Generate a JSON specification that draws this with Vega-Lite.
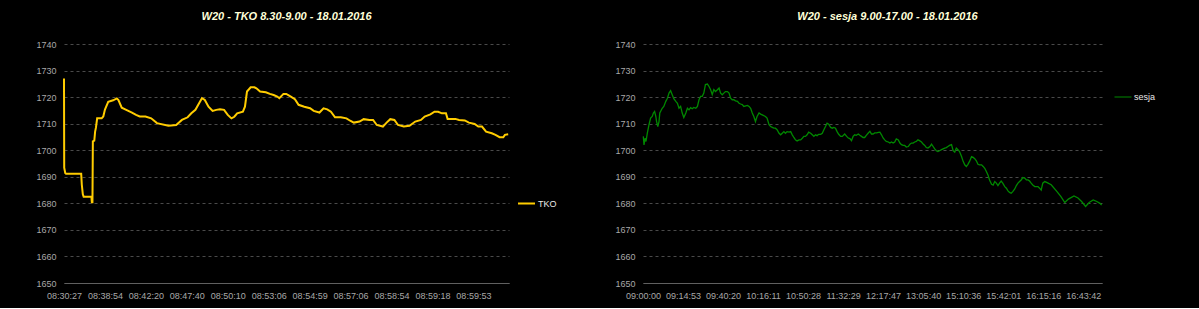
{
  "$schema": "https://vega.github.io/schema/vega-lite/v6.json",
  "background": "#000000",
  "padding": {"left": 35, "top": 11, "right": 48, "bottom": 8},
  "bounds": "flush",
  "spacing": 134,
  "datasets": {
    "tko": [
      {"i":0,"v":1727.0},{"i":0.05,"v":1693.4},{"i":0.3,"v":1691.4},{"i":0.5,"v":1691.1},{"i":4.2,"v":1691.1},{"i":4.35,"v":1687.0},{"i":4.6,"v":1683.4},{"i":4.8,"v":1682.5},{"i":6.7,"v":1682.5},{"i":6.8,"v":1680.4},{"i":6.95,"v":1680.4},{"i":7.05,"v":1703.3},{"i":7.4,"v":1703.6},{"i":7.6,"v":1707.0},{"i":7.8,"v":1708.5},{"i":8.1,"v":1712.0},{"i":9.2,"v":1712.0},{"i":9.6,"v":1712.7},{"i":10.0,"v":1715.3},{"i":10.8,"v":1718.2},{"i":12.0,"v":1718.8},{"i":12.9,"v":1719.5},{"i":13.3,"v":1718.9},{"i":14.1,"v":1716.0},{"i":15.2,"v":1715.2},{"i":16.6,"v":1714.2},{"i":17.6,"v":1713.3},{"i":18.5,"v":1712.7},{"i":19.9,"v":1712.7},{"i":21.3,"v":1712.0},{"i":22.7,"v":1710.2},{"i":25.5,"v":1709.2},{"i":27.4,"v":1709.5},{"i":28.8,"v":1711.4},{"i":30.2,"v":1712.4},{"i":31.1,"v":1713.9},{"i":32.1,"v":1715.2},{"i":33.0,"v":1717.7},{"i":33.7,"v":1719.6},{"i":34.4,"v":1718.9},{"i":35.3,"v":1716.4},{"i":36.3,"v":1714.8},{"i":37.2,"v":1715.2},{"i":38.1,"v":1715.4},{"i":39.1,"v":1715.2},{"i":40.0,"v":1713.3},{"i":40.9,"v":1712.0},{"i":41.6,"v":1712.6},{"i":42.3,"v":1713.9},{"i":43.7,"v":1714.5},{"i":44.2,"v":1716.4},{"i":44.7,"v":1722.1},{"i":45.6,"v":1723.7},{"i":46.5,"v":1723.7},{"i":47.0,"v":1723.3},{"i":47.9,"v":1722.1},{"i":49.3,"v":1721.8},{"i":50.3,"v":1721.2},{"i":51.2,"v":1720.8},{"i":52.1,"v":1720.2},{"i":52.6,"v":1719.6},{"i":53.6,"v":1721.2},{"i":54.3,"v":1721.2},{"i":55.4,"v":1720.2},{"i":56.4,"v":1719.2},{"i":57.3,"v":1717.1},{"i":58.7,"v":1716.4},{"i":60.1,"v":1715.8},{"i":61.0,"v":1714.8},{"i":62.4,"v":1714.2},{"i":63.4,"v":1715.8},{"i":64.3,"v":1715.4},{"i":65.2,"v":1714.5},{"i":66.2,"v":1712.4},{"i":67.6,"v":1712.4},{"i":69.0,"v":1712.0},{"i":69.9,"v":1711.1},{"i":70.8,"v":1710.4},{"i":72.2,"v":1710.8},{"i":73.2,"v":1711.7},{"i":74.6,"v":1711.4},{"i":75.5,"v":1711.4},{"i":76.4,"v":1709.5},{"i":77.9,"v":1708.9},{"i":78.8,"v":1710.4},{"i":79.7,"v":1711.7},{"i":80.7,"v":1711.4},{"i":81.6,"v":1709.5},{"i":83.0,"v":1708.9},{"i":84.4,"v":1709.2},{"i":85.8,"v":1710.8},{"i":87.2,"v":1711.4},{"i":88.1,"v":1712.7},{"i":89.5,"v":1713.5},{"i":90.5,"v":1714.5},{"i":91.4,"v":1714.5},{"i":92.3,"v":1713.9},{"i":93.3,"v":1713.9},{"i":93.7,"v":1711.8},{"i":95.6,"v":1711.8},{"i":96.5,"v":1711.4},{"i":97.9,"v":1711.2},{"i":98.9,"v":1710.4},{"i":100.3,"v":1709.9},{"i":101.2,"v":1708.9},{"i":102.1,"v":1708.9},{"i":103.1,"v":1707.0},{"i":104.5,"v":1706.4},{"i":105.4,"v":1705.8},{"i":106.4,"v":1704.9},{"i":107.3,"v":1704.9},{"i":107.7,"v":1705.8},{"i":108.5,"v":1706.0}
    ],
    "sesja": [
      {"i":0.08,"v":1705.2},{"i":0.25,"v":1702.0},{"i":0.5,"v":1704.5},{"i":0.75,"v":1703.3},{"i":1.08,"v":1706.4},{"i":1.5,"v":1709.6},{"i":1.9,"v":1712.1},{"i":2.3,"v":1712.7},{"i":2.6,"v":1714.0},{"i":2.9,"v":1714.6},{"i":3.2,"v":1712.7},{"i":3.4,"v":1710.8},{"i":3.7,"v":1708.9},{"i":4.0,"v":1710.8},{"i":4.2,"v":1714.0},{"i":4.8,"v":1715.8},{"i":5.2,"v":1716.5},{"i":5.7,"v":1718.4},{"i":6.1,"v":1719.6},{"i":6.5,"v":1721.5},{"i":6.9,"v":1722.4},{"i":7.3,"v":1720.9},{"i":7.7,"v":1719.4},{"i":8.2,"v":1718.4},{"i":8.6,"v":1717.7},{"i":9.0,"v":1715.8},{"i":9.4,"v":1716.5},{"i":9.8,"v":1714.0},{"i":10.2,"v":1712.3},{"i":10.7,"v":1714.0},{"i":11.1,"v":1715.8},{"i":11.5,"v":1715.2},{"i":11.9,"v":1716.0},{"i":12.3,"v":1715.6},{"i":12.7,"v":1716.1},{"i":13.2,"v":1715.8},{"i":13.6,"v":1716.5},{"i":14.0,"v":1719.0},{"i":14.4,"v":1720.3},{"i":14.8,"v":1720.3},{"i":15.2,"v":1721.5},{"i":15.6,"v":1724.7},{"i":16.1,"v":1724.9},{"i":16.5,"v":1724.0},{"i":16.9,"v":1722.8},{"i":17.3,"v":1720.9},{"i":17.7,"v":1722.8},{"i":18.1,"v":1722.1},{"i":18.6,"v":1722.8},{"i":19.0,"v":1723.4},{"i":19.4,"v":1721.5},{"i":19.8,"v":1720.9},{"i":20.2,"v":1721.5},{"i":20.6,"v":1722.1},{"i":21.1,"v":1722.1},{"i":21.5,"v":1721.5},{"i":21.9,"v":1719.6},{"i":22.3,"v":1719.0},{"i":22.7,"v":1719.0},{"i":23.1,"v":1718.6},{"i":23.6,"v":1718.4},{"i":24.0,"v":1717.7},{"i":24.4,"v":1717.4},{"i":24.8,"v":1717.2},{"i":25.2,"v":1716.5},{"i":26.1,"v":1716.9},{"i":26.5,"v":1716.5},{"i":26.9,"v":1715.8},{"i":27.3,"v":1714.0},{"i":27.7,"v":1712.7},{"i":28.1,"v":1710.8},{"i":28.5,"v":1712.7},{"i":29.0,"v":1714.0},{"i":29.4,"v":1713.6},{"i":29.8,"v":1713.3},{"i":30.6,"v":1712.7},{"i":31.0,"v":1712.1},{"i":31.5,"v":1709.6},{"i":31.9,"v":1708.9},{"i":32.3,"v":1708.6},{"i":32.7,"v":1708.3},{"i":33.1,"v":1708.3},{"i":33.5,"v":1707.7},{"i":34.0,"v":1706.4},{"i":34.4,"v":1705.8},{"i":34.8,"v":1706.4},{"i":35.2,"v":1707.0},{"i":35.6,"v":1706.4},{"i":36.0,"v":1707.0},{"i":36.5,"v":1706.8},{"i":36.9,"v":1707.0},{"i":37.3,"v":1705.8},{"i":37.7,"v":1704.8},{"i":38.1,"v":1703.9},{"i":38.5,"v":1703.5},{"i":39.0,"v":1703.9},{"i":39.4,"v":1703.9},{"i":39.8,"v":1704.5},{"i":40.2,"v":1705.2},{"i":40.6,"v":1705.2},{"i":41.0,"v":1705.8},{"i":41.4,"v":1706.8},{"i":41.9,"v":1706.4},{"i":42.3,"v":1705.8},{"i":42.7,"v":1705.2},{"i":43.1,"v":1705.8},{"i":43.5,"v":1705.5},{"i":43.9,"v":1706.0},{"i":44.4,"v":1706.0},{"i":44.8,"v":1706.4},{"i":45.2,"v":1707.7},{"i":45.6,"v":1708.9},{"i":46.0,"v":1710.2},{"i":46.4,"v":1709.8},{"i":46.9,"v":1708.6},{"i":47.3,"v":1708.3},{"i":47.7,"v":1708.6},{"i":48.1,"v":1708.3},{"i":48.5,"v":1707.0},{"i":48.9,"v":1706.0},{"i":49.4,"v":1705.2},{"i":49.8,"v":1705.2},{"i":50.4,"v":1706.1},{"i":50.9,"v":1705.2},{"i":51.3,"v":1704.6},{"i":51.7,"v":1704.4},{"i":52.1,"v":1703.6},{"i":52.5,"v":1705.2},{"i":52.9,"v":1705.8},{"i":53.3,"v":1705.6},{"i":53.8,"v":1706.1},{"i":54.2,"v":1705.6},{"i":54.6,"v":1705.2},{"i":55.0,"v":1704.8},{"i":55.4,"v":1704.8},{"i":55.8,"v":1705.6},{"i":56.3,"v":1706.5},{"i":56.7,"v":1707.1},{"i":57.1,"v":1706.1},{"i":57.5,"v":1706.1},{"i":57.9,"v":1706.5},{"i":58.4,"v":1706.5},{"i":58.8,"v":1706.7},{"i":59.2,"v":1706.8},{"i":59.6,"v":1705.8},{"i":60.0,"v":1704.6},{"i":60.4,"v":1703.9},{"i":60.8,"v":1703.3},{"i":61.3,"v":1703.1},{"i":61.7,"v":1702.7},{"i":62.1,"v":1703.1},{"i":62.5,"v":1702.7},{"i":62.9,"v":1703.1},{"i":63.3,"v":1704.3},{"i":63.8,"v":1703.9},{"i":64.2,"v":1702.7},{"i":64.6,"v":1702.1},{"i":65.0,"v":1701.8},{"i":65.4,"v":1701.8},{"i":65.8,"v":1701.2},{"i":66.3,"v":1701.4},{"i":66.7,"v":1702.3},{"i":67.1,"v":1702.7},{"i":67.5,"v":1702.7},{"i":67.9,"v":1703.1},{"i":68.3,"v":1703.3},{"i":68.7,"v":1703.9},{"i":69.1,"v":1703.6},{"i":69.6,"v":1703.1},{"i":70.0,"v":1702.3},{"i":70.4,"v":1701.8},{"i":70.8,"v":1701.0},{"i":71.2,"v":1700.8},{"i":71.7,"v":1701.4},{"i":72.1,"v":1702.3},{"i":72.5,"v":1701.4},{"i":72.9,"v":1700.5},{"i":73.3,"v":1699.8},{"i":73.7,"v":1699.5},{"i":74.1,"v":1699.8},{"i":74.6,"v":1700.2},{"i":75.0,"v":1700.5},{"i":75.4,"v":1700.8},{"i":75.8,"v":1701.0},{"i":76.2,"v":1701.4},{"i":76.6,"v":1701.8},{"i":77.1,"v":1702.1},{"i":77.5,"v":1699.8},{"i":77.9,"v":1699.3},{"i":78.3,"v":1700.8},{"i":78.7,"v":1700.2},{"i":79.1,"v":1699.5},{"i":79.6,"v":1697.6},{"i":80.0,"v":1695.8},{"i":80.4,"v":1694.5},{"i":80.8,"v":1693.9},{"i":81.2,"v":1694.7},{"i":81.6,"v":1695.8},{"i":82.1,"v":1697.6},{"i":82.5,"v":1697.3},{"i":82.9,"v":1696.8},{"i":83.3,"v":1696.0},{"i":83.7,"v":1694.7},{"i":84.1,"v":1694.5},{"i":84.6,"v":1694.5},{"i":85.0,"v":1693.9},{"i":85.4,"v":1693.2},{"i":85.8,"v":1692.0},{"i":86.2,"v":1690.7},{"i":86.6,"v":1688.8},{"i":87.1,"v":1687.2},{"i":87.5,"v":1686.9},{"i":87.9,"v":1688.2},{"i":88.3,"v":1687.6},{"i":88.7,"v":1686.7},{"i":89.1,"v":1687.6},{"i":89.5,"v":1688.4},{"i":89.9,"v":1687.6},{"i":90.4,"v":1686.3},{"i":90.8,"v":1685.7},{"i":91.2,"v":1684.7},{"i":91.6,"v":1684.1},{"i":92.0,"v":1683.8},{"i":92.4,"v":1684.4},{"i":92.9,"v":1685.4},{"i":93.3,"v":1686.7},{"i":93.7,"v":1687.6},{"i":94.1,"v":1688.2},{"i":94.5,"v":1688.8},{"i":94.9,"v":1689.7},{"i":95.4,"v":1689.5},{"i":95.8,"v":1688.8},{"i":96.2,"v":1688.8},{"i":96.6,"v":1688.4},{"i":97.0,"v":1687.6},{"i":97.4,"v":1686.9},{"i":97.9,"v":1686.3},{"i":98.3,"v":1686.3},{"i":98.7,"v":1686.3},{"i":99.1,"v":1685.7},{"i":99.5,"v":1685.0},{"i":99.9,"v":1687.6},{"i":100.4,"v":1688.2},{"i":101.0,"v":1687.8},{"i":102.0,"v":1687.0},{"i":103.4,"v":1684.5},{"i":104.4,"v":1682.6},{"i":105.4,"v":1680.3},{"i":106.3,"v":1681.6},{"i":107.7,"v":1682.8},{"i":108.7,"v":1682.0},{"i":109.6,"v":1680.7},{"i":110.6,"v":1678.8},{"i":111.5,"v":1680.3},{"i":112.5,"v":1681.3},{"i":113.4,"v":1680.7},{"i":114.2,"v":1680.0},{"i":114.6,"v":1679.4}
    ]
  },
  "hconcat": [
    {
      "width": 445,
      "height": 239,
      "title": {"text": "W20 - TKO 8.30-9.00 - 18.01.2016"},
      "data": {"name": "tko"},
      "mark": {"type": "line", "strokeWidth": 2},
      "encoding": {
        "x": {
          "field": "i", "type": "quantitative",
          "scale": {"domain": [0, 108.7], "nice": false, "zero": false},
          "axis": {"values": [0,10,20,30,40,50,60,70,80,90,100], "labelExpr": "['08:30:27','08:38:54','08:42:20','08:47:40','08:50:10','08:53:06','08:54:59','08:57:06','08:58:54','08:59:18','08:59:53'][round(datum.value/10)]", "title": null, "grid": false}
        },
        "y": {
          "field": "v", "type": "quantitative",
          "scale": {"domain": [1650, 1740], "nice": false, "zero": false},
          "axis": {"values": [1650,1660,1670,1680,1690,1700,1710,1720,1730,1740], "format": "d", "title": null, "grid": true, "domain": false}
        },
        "color": {
          "datum": "TKO",
          "scale": {"domain": ["TKO"], "range": ["#ffcc00"]},
          "legend": {"orient": "none", "legendX": 453, "legendY": 150, "title": null, "symbolStrokeWidth": 2}
        }
      }
    },
    {
      "width": 459,
      "height": 239,
      "title": {"text": "W20 - sesja 9.00-17.00 - 18.01.2016", "dx": 15},
      "data": {"name": "sesja"},
      "mark": {"type": "line", "strokeWidth": 1.3},
      "encoding": {
        "x": {
          "field": "i", "type": "quantitative",
          "scale": {"domain": [0, 114.7], "nice": false, "zero": false},
          "axis": {"values": [0,10,20,30,40,50,60,70,80,90,100,110], "labelExpr": "['09:00:00','09:14:53','09:40:20','10:16:11','10:50:28','11:32:29','12:17:47','13:05:40','15:10:36','15:42:01','16:15:16','16:43:42'][round(datum.value/10)]", "title": null, "grid": false}
        },
        "y": {
          "field": "v", "type": "quantitative",
          "scale": {"domain": [1650, 1740], "nice": false, "zero": false},
          "axis": {"values": [1650,1660,1670,1680,1690,1700,1710,1720,1730,1740], "format": "d", "title": null, "grid": true, "domain": false}
        },
        "color": {
          "datum": "sesja",
          "scale": {"domain": ["sesja"], "range": ["#008800"]},
          "legend": {"orient": "none", "legendX": 471, "legendY": 44, "title": null, "symbolStrokeWidth": 1}
        }
      }
    }
  ],
  "resolve": {"scale": {"color": "independent", "x": "independent", "y": "independent"}},
  "config": {
    "background": "#000000",
    "font": "Liberation Sans",
    "view": {"stroke": null},
    "title": {"fontSize": 11, "fontStyle": "italic", "fontWeight": "bold", "color": "#ffffd8", "anchor": "middle", "baseline": "alphabetic", "offset": 18},
    "axis": {"labelFont": "Liberation Sans", "labelFontSize": 9, "labelColor": "#a8a8a8", "ticks": false, "labelPadding": 8, "gridColor": "#4a4a4a", "gridDash": [3, 3], "gridWidth": 1, "domainColor": "#606060", "domainWidth": 1},
    "axisX": {"labelAngle": 0, "labelOverlap": false, "labelFlush": false},
    "legend": {"labelFont": "Liberation Sans", "labelFontSize": 9, "labelColor": "#e8e8e8", "symbolType": "stroke", "symbolSize": 289, "labelOffset": 2, "padding": 0}
  }
}
